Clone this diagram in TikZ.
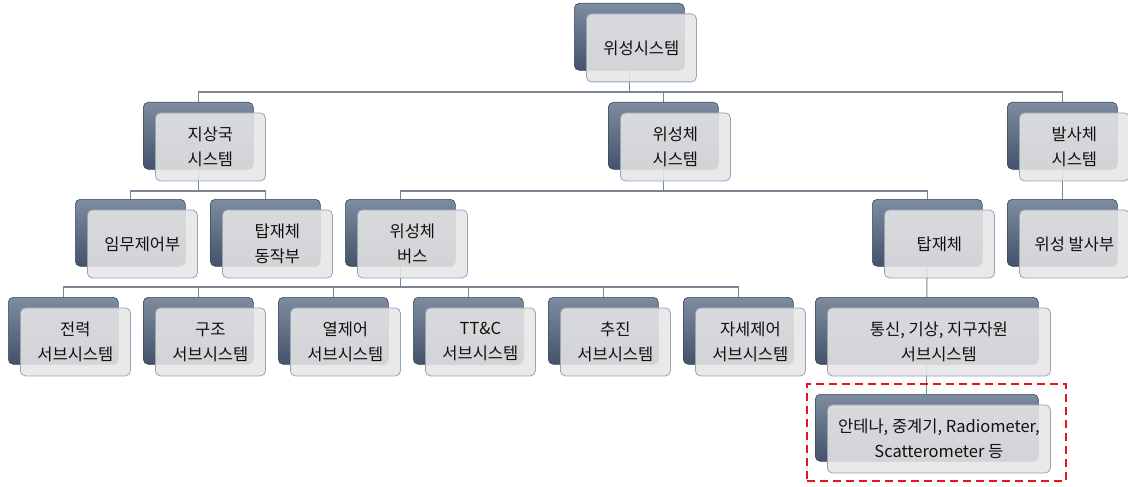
\documentclass[tikz,border=0pt]{standalone}
\usepackage{fontspec}
\setmainfont{Noto Sans CJK KR}
\usetikzlibrary{backgrounds}
\definecolor{backtop}{HTML}{7E8CA1}
\definecolor{backmid}{HTML}{55647B}
\definecolor{backbot}{HTML}{44526A}
\definecolor{backdraw}{HTML}{3A4659}
\definecolor{frontfill}{HTML}{E6E6E6}
\definecolor{frontdraw}{HTML}{98A4B4}
\definecolor{conncol}{HTML}{7A8594}
\definecolor{hlred}{HTML}{E8141B}
\definecolor{txtcol}{HTML}{111111}
\tikzset{
  backbox/.style={draw=backdraw, line width=0.6pt, rounded corners=5pt,
    top color=backtop, middle color=backmid, bottom color=backbot,
    minimum height=67pt, inner sep=0pt, anchor=north west},
  frontbox/.style={draw=frontdraw, line width=0.8pt, rounded corners=5pt,
    fill=frontfill, fill opacity=0.88, text opacity=1, text=txtcol,
    minimum height=68pt, inner sep=0pt, anchor=north west, align=center,
    font=\fontsize{16.5}{25}\selectfont},
  conn/.style={draw=conncol, line width=1.1pt},
  hlbox/.style={draw=hlred, line width=2pt, dash pattern=on 8pt off 5pt,
    minimum width=259pt, minimum height=97pt, inner sep=0pt, anchor=north west}
}
\newcommand\orgbox[5]{%
  \node[backbox, minimum width=#4pt] (#1-b) at (#2,#3) {};
  \node[frontbox, minimum width=#4pt] (#1) at (#2+12,#3+10.5) {#5};
}
\begin{document}
\begin{tikzpicture}[x=1pt,y=-1pt]
\useasboundingbox (0,0) rectangle (1128,487);
\coordinate (busA) at (0,92);
\coordinate (busB) at (0,191);
\coordinate (busC) at (0,287);

\orgbox{sys}{574}{3}{110}{위성시스템}
\orgbox{gnd}{143}{102}{110}{지상국\\시스템}
\orgbox{sat}{608}{102}{110}{위성체\\시스템}
\orgbox{lv}{1007}{102}{110}{발사체\\시스템}
\orgbox{msn}{75}{199}{110}{임무제어부}
\orgbox{pop}{210}{199}{110}{탑재체\\동작부}
\orgbox{bus}{345}{199}{110}{위성체\\버스}
\orgbox{pl}{872}{199}{110}{탑재체}
\orgbox{lvs}{1007}{199}{110}{위성 발사부}
\orgbox{pwr}{8}{297}{110}{전력\\서브시스템}
\orgbox{str}{143}{297}{110}{구조\\서브시스템}
\orgbox{thm}{278}{297}{110}{열제어\\서브시스템}
\orgbox{ttc}{413}{297}{110}{TT\&C\\서브시스템}
\orgbox{prp}{548}{297}{110}{추진\\서브시스템}
\orgbox{att}{683}{297}{110}{자세제어\\서브시스템}
\orgbox{com}{815}{297}{223}{통신, 기상, 지구자원\\서브시스템}
\orgbox{ant}{815}{394}{223}{안테나, 중계기, Radiometer,\\Scatterometer 등}

\node[hlbox] (hl) at (806,383) {};

\begin{pgfonlayer}{background}
  \foreach \c in {gnd,sat,lv}
    \draw[conn] (sys-b.center) |- (busA -| \c-b.north) -- (\c-b.north);
  \foreach \c in {msn,pop}
    \draw[conn] (gnd-b.center) |- (busB -| \c-b.north) -- (\c-b.north);
  \foreach \c in {bus,pl}
    \draw[conn] (sat-b.center) |- (busB -| \c-b.north) -- (\c-b.north);
  \foreach \c in {pwr,str,thm,ttc,prp,att}
    \draw[conn] (bus-b.center) |- (busC -| \c-b.north) -- (\c-b.north);
  \draw[conn] (lv-b.center) -- (lvs-b.north);
  \draw[conn] (pl-b.center) -- (com-b.north);
  \draw[conn] (com-b.center) -- (ant-b.north);
\end{pgfonlayer}
\end{tikzpicture}
\end{document}
